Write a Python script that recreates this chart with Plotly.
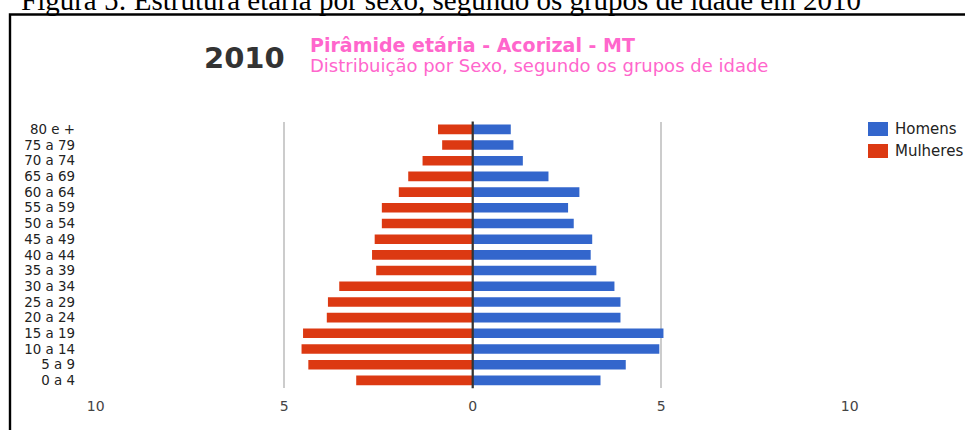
import plotly.graph_objects as go

# ---- data ----
faixas = ["0 a 4", "5 a 9", "10 a 14", "15 a 19", "20 a 24", "25 a 29", "30 a 34",
          "35 a 39", "40 a 44", "45 a 49", "50 a 54", "55 a 59", "60 a 64",
          "65 a 69", "70 a 74", "75 a 79", "80 e +"]
homens = [3.39, 4.06, 4.95, 5.06, 3.92, 3.92, 3.76, 3.28, 3.13, 3.17, 2.68, 2.53,
          2.83, 2.01, 1.33, 1.08, 1.01]
mulheres = [3.09, 4.36, 4.54, 4.50, 3.87, 3.84, 3.54, 2.56, 2.67, 2.60, 2.41, 2.41,
            1.96, 1.71, 1.33, 0.81, 0.92]
tick_vals = [-10, -5, 0, 5, 10]
tick_text = ["10", "5", "0", "5", "10"]

W, H = 965, 430
def px(x):
    return x / W
def py(y):
    return 1 - y / H

BLUE = "#3366cc"
RED = "#dc3912"
PINK = "#ff66cc"
FONT = "DejaVu Sans"

fig = go.Figure()
fig.add_trace(go.Bar(y=faixas, x=homens, orientation="h", name="Homens",
                     marker=dict(color=BLUE, line=dict(width=0)), width=0.61))
fig.add_trace(go.Bar(y=faixas, x=[-v for v in mulheres], orientation="h", name="Mulheres",
                     marker=dict(color=RED, line=dict(width=0)), width=0.61))

annotations = [
    dict(text="Figura 5: Estrutura etária por sexo, segundo os grupos de idade em 2010",
         x=px(19), y=py(-0.5), xanchor="left", yanchor="middle",
         font=dict(family="Liberation Serif", size=29, color="#000000")),
    dict(text="<b>2010</b>", x=px(202), y=py(58), xanchor="left", yanchor="middle",
         font=dict(family=FONT, size=29, color="#333333")),
    dict(text="<b>Pirâmide etária - Acorizal - MT</b>", x=px(308), y=py(44.5),
         xanchor="left", yanchor="middle", font=dict(family=FONT, size=19, color=PINK)),
    dict(text="Distribuição por Sexo, segundo os grupos de idade", x=px(308), y=py(65.5),
         xanchor="left", yanchor="middle", font=dict(family=FONT, size=18, color=PINK)),
    dict(text="Homens", x=px(893), y=py(129), xanchor="left", yanchor="middle",
         font=dict(family=FONT, size=15, color="#222222")),
    dict(text="Mulheres", x=px(893), y=py(151), xanchor="left", yanchor="middle",
         font=dict(family=FONT, size=15, color="#222222")),
]
for a in annotations:
    a.update(xref="paper", yref="paper", showarrow=False)

shapes = [
    dict(type="rect", xref="paper", yref="paper", x0=px(10), x1=px(1000),
         y0=py(14.5), y1=py(470), line=dict(color="#000000", width=2.4),
         fillcolor="rgba(0,0,0,0)", layer="above"),
    dict(type="line", xref="x", yref="y domain", x0=0, x1=0, y0=0, y1=1,
         line=dict(color="#333333", width=2.2), layer="above"),
    dict(type="rect", xref="paper", yref="paper", x0=px(868), x1=px(888),
         y0=py(122), y1=py(136), line=dict(width=0), fillcolor=BLUE),
    dict(type="rect", xref="paper", yref="paper", x0=px(868), x1=px(888),
         y0=py(144), y1=py(158), line=dict(width=0), fillcolor=RED),
]

fig.update_layout(
    width=W, height=H, autosize=False,
    margin=dict(l=0, r=0, t=0, b=0, pad=0),
    paper_bgcolor="white", plot_bgcolor="white",
    barmode="overlay", showlegend=False,
    annotations=annotations, shapes=shapes,
    xaxis=dict(domain=[px(95.7), px(849.7)], range=[-10, 10], automargin=False,
               tickmode="array", tickvals=tick_vals, ticktext=tick_text,
               showgrid=True, gridcolor="#cccccc", gridwidth=2, zeroline=False,
               ticks="outside", ticklen=5, tickcolor="rgba(0,0,0,0)",
               tickfont=dict(family=FONT, size=14, color="#444444"),
               showline=False, fixedrange=True),
    yaxis=dict(domain=[py(388.2), py(121.5)], type="category", automargin=False,
               categoryorder="array", categoryarray=faixas,
               tickmode="array", tickvals=faixas, ticktext=faixas,
               range=[-0.5, len(faixas) - 0.5],
               showgrid=False, zeroline=False, showline=False,
               ticks="outside", ticklen=17, tickcolor="rgba(0,0,0,0)",
               tickfont=dict(family=FONT, size=13.4, color="#222222"),
               fixedrange=True),
)

fig.write_html("out.html",
               config={"displayModeBar": False},
               post_script="document.body.style.margin='0px';"
                           "document.documentElement.style.overflow='hidden';")
